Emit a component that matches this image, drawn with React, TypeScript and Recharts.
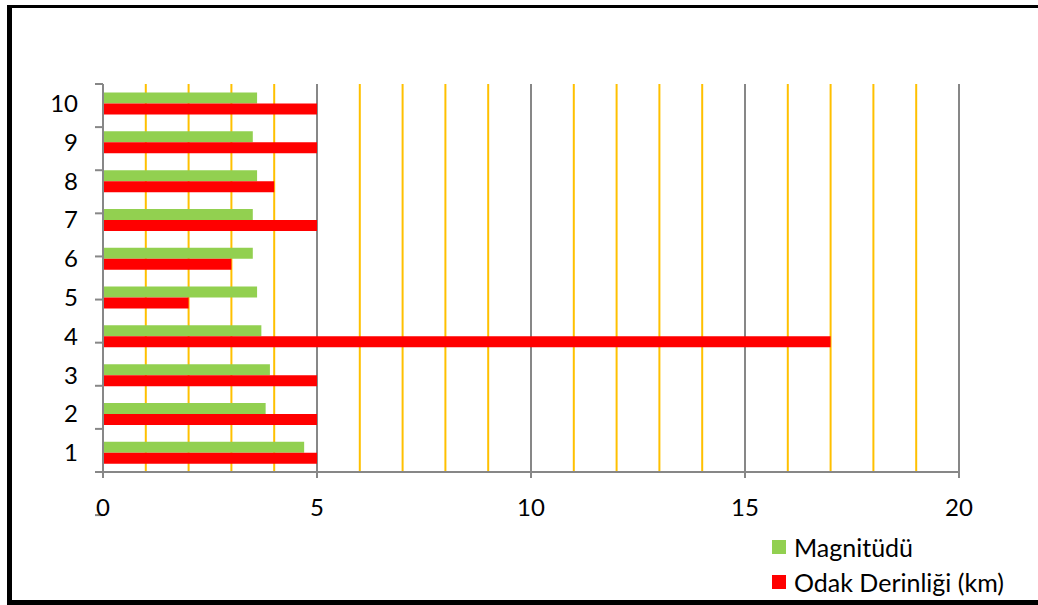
import React from 'react';
import { BarChart, Bar, XAxis, YAxis, CartesianGrid, Legend } from 'recharts';

const categories = ['1', '2', '3', '4', '5', '6', '7', '8', '9', '10'];
const magnitude = [4.7, 3.8, 3.9, 3.7, 3.6, 3.5, 3.5, 3.6, 3.5, 3.6];
const depth = [5, 5, 5, 17, 2, 3, 5, 4, 5, 5];
const xTicks = [0, 5, 10, 15, 20];
const minorValues = [1, 2, 3, 4, 6, 7, 8, 9, 11, 12, 13, 14, 16, 17, 18, 19];
const majorValues = [5, 10, 15, 20];
const boundaryTicks = [0, 1, 2, 3, 4, 5, 6, 7, 8, 9, 10];

const SERIES_MAG = 'Magnitüdü';
const SERIES_DEPTH = 'Odak Derinliği (km)';

const data = categories.map((c, i) => ({ cat: c, mag: magnitude[i], depth: depth[i] }));

const FONT = 'Lato, "Open Sans", sans-serif';
const GREY = '#878787';

const LegendContent = () => (
  <div style={{ fontFamily: FONT, fontSize: 25, color: '#000' }}>
    {[
      { name: SERIES_MAG, color: '#92D050' },
      { name: SERIES_DEPTH, color: '#FF0000' },
    ].map((it) => (
      <div key={it.name} style={{ display: 'flex', alignItems: 'center', height: 34.5, whiteSpace: 'nowrap' }}>
        <span style={{ display: 'inline-block', width: 14, height: 14, background: it.color, marginRight: 8 }} />
        <span>{it.name}</span>
      </div>
    ))}
  </div>
);

const NoTick = () => null;

export default function App() {
  return (
    <div style={{ position: 'absolute', left: 0, top: 0, width: 1038, height: 605, overflow: 'hidden', background: '#fff' }}>
      <div
        style={{
          position: 'absolute',
          left: 7,
          top: 5,
          width: 1060,
          height: 592,
          borderLeft: '5px solid #000',
          borderTop: '3px solid #000',
          borderBottom: '5px solid #000',
        }}
      />
      <div style={{ position: 'absolute', left: 0, top: 0 }}>
        <BarChart
          width={1038}
          height={605}
          data={data}
          layout="vertical"
          margin={{ top: 84, right: 79, left: 0, bottom: 73 }}
          barCategoryGap="22%"
          barGap={0}
        >
          <CartesianGrid yAxisId="cat" horizontal={false} verticalValues={minorValues} stroke="#FFC000" strokeWidth={2} />
          <CartesianGrid yAxisId="cat" horizontal={false} verticalValues={majorValues} stroke={GREY} strokeWidth={2} />
          <XAxis
            type="number"
            domain={[0, 20]}
            ticks={xTicks}
            interval={0}
            height={60}
            axisLine={{ stroke: GREY, strokeWidth: 2 }}
            tickLine={{ stroke: GREY, strokeWidth: 2 }}
            tickSize={6}
            tickMargin={21}
            tick={{ fill: '#000', fontSize: 24, fontFamily: FONT }}
          />
          <YAxis
            yAxisId={0}
            type="number"
            domain={[0, 10]}
            ticks={boundaryTicks}
            interval={0}
            width={1}
            axisLine={{ stroke: GREY, strokeWidth: 2 }}
            tickLine={{ stroke: GREY, strokeWidth: 2 }}
            tickSize={8}
            tick={NoTick}
          />
          <YAxis
            yAxisId="cat"
            type="category"
            dataKey="cat"
            reversed
            width={102}
            interval={0}
            axisLine={false}
            tickLine={false}
            tickSize={0}
            tickMargin={24}
            tick={{ fill: '#000', fontSize: 24, fontFamily: FONT }}
          />
          <Legend
            layout="vertical"
            align="center"
            verticalAlign="middle"
            content={<LegendContent />}
            wrapperStyle={{ left: 772, top: 530, width: 'auto', height: 'auto' }}
          />
          <Bar yAxisId="cat" dataKey="mag" name={SERIES_MAG} fill="#92D050" isAnimationActive={false} />
          <Bar yAxisId="cat" dataKey="depth" name={SERIES_DEPTH} fill="#FF0000" isAnimationActive={false} />
        </BarChart>
      </div>
    </div>
  );
}
